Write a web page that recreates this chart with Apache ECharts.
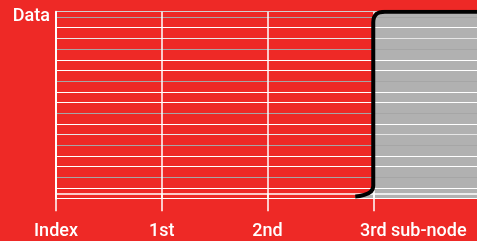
<!DOCTYPE html>
<html>
<head>
<meta charset="utf-8">
<script src="https://cdn.jsdelivr.net/npm/echarts@6/dist/echarts.min.js"></script>
<style>
html,body{margin:0;padding:0;background:#ee2926;}
#main{width:477px;height:241px;}
</style>
</head>
<body>
<div id="main"></div>
<script>
var xLabels = ['Index', '1st', '2nd', '3rd sub-node'];
var xValues = [2.83, 3, 3, 3.11, 4];
var yValues = [-0.3, 0.7, 16, 17, 17];

// colours of the horizontal grid lines, from the bottom up
var gridColors = ['#fff', '#fff', '#a6a6a6', '#fff', '#fff', '#a6a6a6', '#e6e6e6', '#fff', '#a6a6a6',
    '#fff', '#fff', '#a6a6a6', '#fff', '#fff', '#a6a6a6', '#e6e6e6', '#fff', '#a6a6a6', '#d0d0d0'];

var points = [];
for (var i = 0; i < xValues.length; i++) {
    points.push([xValues[i], yValues[i]]);
}

var font = 'Roboto';
var myChart = echarts.init(document.getElementById('main'));
var option = {
    backgroundColor: '#ee2926',
    animation: false,
    grid: { left: 56, width: 423, top: 11.7, height: 187, containLabel: false, outerBoundsMode: 'none' },
    xAxis: {
        type: 'value',
        min: 0,
        max: 4,
        interval: 1,
        z: 3,
        axisLine: { show: true, lineStyle: { color: '#fff', width: 1.5 } },
        axisTick: { show: true, length: 18, lineStyle: { color: '#fff', width: 1.5 } },
        splitLine: { show: true, lineStyle: { color: '#fff', width: 1.5 } },
        axisLabel: {
            margin: 24,
            color: '#fff',
            fontFamily: font,
            fontWeight: 500,
            fontSize: 18,
            formatter: function (v) {
                if (v === 3) return '{pad|}' + xLabels[3];
                return xLabels[v] || '';
            },
            rich: { pad: { width: 80 } }
        }
    },
    yAxis: {
        type: 'value',
        min: -0.5,
        max: 17,
        interval: 1,
        z: 3,
        name: 'Data',
        nameLocation: 'end',
        nameGap: -5,
        nameTextStyle: {
            color: '#fff', fontFamily: font, fontWeight: 500, fontSize: 18,
            align: 'right', verticalAlign: 'middle', padding: [0, 6, 0, 0]
        },
        axisLine: { show: true, lineStyle: { color: '#fff', width: 2 } },
        axisTick: { show: false },
        axisLabel: { show: false },
        splitLine: { show: true, lineStyle: { color: gridColors, width: 1.2 } }
    },
    series: [{
        type: 'line',
        data: points,
        smooth: 0.5,
        showSymbol: false,
        z: 1,
        lineStyle: { width: 0 },
        areaStyle: { color: '#b1b1b1', opacity: 1, origin: 'start' }
    }, {
        type: 'line',
        data: points,
        smooth: 0.5,
        showSymbol: false,
        z: 5,
        lineStyle: { color: '#000', width: 4 }
    }]
};
myChart.setOption(option);
</script>
</body>
</html>
